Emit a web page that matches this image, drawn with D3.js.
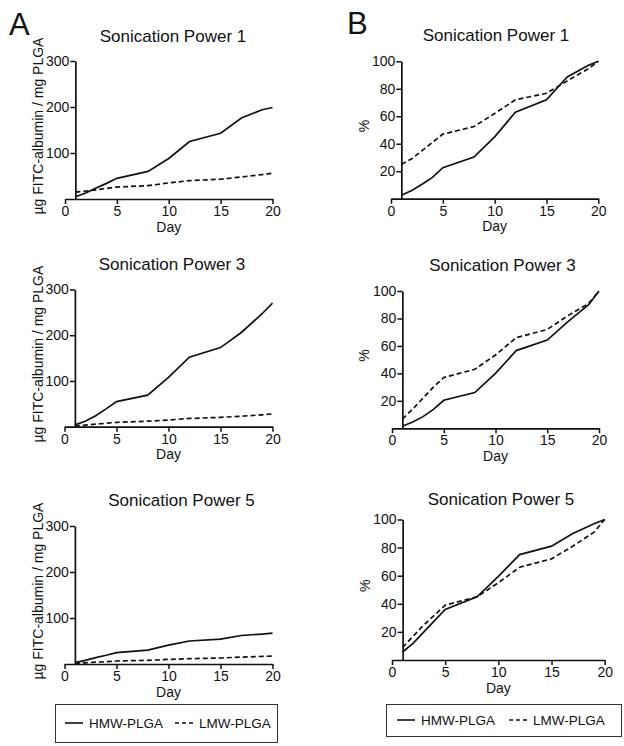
<!DOCTYPE html>
<html><head><meta charset="utf-8">
<script src="https://cdn.jsdelivr.net/npm/d3@7"></script>
<style>
body{margin:0;background:#fff;}
svg text{font-family:"Liberation Sans",Arial,sans-serif;fill:#111;}
</style></head>
<body><svg id="c" width="624" height="746"></svg>
<script>
const days = [1,2,3,4,5,8,10,12,15,17,19,20];
const seriesNames = ["HMW-PLGA","LMW-PLGA"];
const titles = ["Sonication Power 1","Sonication Power 3","Sonication Power 5"];
const xTicks = [0,5,10,15,20];
const yTicksA = [100,200,300];
const yTicksB = [20,40,60,80,100];
const yLabelA = "µg FITC-albumin / mg PLGA";
const yLabelB = "%";
const xLabel = "Day";

// Panel A: µg FITC-albumin / mg PLGA
const hmwA1 = [5,13,24,34,45,60,88,125,143,176,194,199];
const lmwA1 = [15,17,20,23,26,29,35,40,43,48,53,56];
const hmwA3 = [4,12,24,39,55,69,108,152,173,206,247,270];
const lmwA3 = [1.5,3.5,5.5,7.5,9.5,12,14.6,18,20.4,23,26,28];
const hmwA5 = [3,8,14,19,24.6,30,41,50,54,62,65,67];
const lmwA5 = [1.5,2.5,4,5,6.5,8,10,11.6,13,15,16.5,17.4];
// Panel B: cumulative %
const hmwB1 = [2.5,6,10.5,15.5,22.6,30.3,45,63,72,88.6,97,100];
const lmwB1 = [25,29,35,41,47,52.5,62,72,76.7,85.7,94.4,100];
const hmwB3 = [1.5,4.6,8.5,13.8,20.4,26,40,56.6,64.3,77.7,90,100];
const lmwB3 = [6.8,14,22,30,37,43,53.4,66,72,82,91,100];
const hmwB5 = [5.7,12,20,28,36,45,59.5,75,81,90,97,100];
const lmwB5 = [9,17,25,32,39,45,55,66,72,81,91,100];

const svg = d3.select("#c");

const panels = [
  {h:hmwA1,l:lmwA1,t:0,yMax:300,ticks:yTicksA,yl:yLabelA,x:[65,272.5],y:[199,61],tb:41.5,tx:173,ylx:38},
  {h:hmwB1,l:lmwB1,t:0,yMax:100,ticks:yTicksB,yl:yLabelB,x:[391,598.3],y:[198.7,61.3],tb:40.5,tx:496,ylx:364},
  {h:hmwA3,l:lmwA3,t:1,yMax:300,ticks:yTicksA,yl:yLabelA,x:[64.5,272.5],y:[426.7,289.5],tb:270,tx:172,ylx:38},
  {h:hmwB3,l:lmwB3,t:1,yMax:100,ticks:yTicksB,yl:yLabelB,x:[392,599],y:[428.3,291],tb:270.5,tx:502.5,ylx:364},
  {h:hmwA5,l:lmwA5,t:2,yMax:300,ticks:yTicksA,yl:yLabelA,x:[64.5,272.5],y:[664,526],tb:506,tx:181.5,ylx:38},
  {h:hmwB5,l:lmwB5,t:2,yMax:100,ticks:yTicksB,yl:yLabelB,x:[392,604.7],y:[660,519.5],tb:505,tx:501,ylx:365}
];

const dashes = [null,"5,3"];

panels.forEach(p => {
  const x = d3.scaleLinear().domain([0,20]).range(p.x);
  const y = d3.scaleLinear().domain([0,p.yMax]).range(p.y);
  const g = svg.append("g");
  const xa = g.append("g").attr("transform",`translate(0,${p.y[0]})`)
    .call(d3.axisBottom(x).tickValues(xTicks).tickSize(5).tickPadding(2).tickSizeOuter(0));
  xa.select(".domain").attr("stroke","#111").attr("stroke-width",1.7);
  xa.selectAll(".tick line").attr("stroke","#111").attr("stroke-width",1.5);
  xa.selectAll("text").attr("font-size",14).attr("fill","#111");
  const ya = g.append("g").attr("transform",`translate(${x(1)},0)`)
    .call(d3.axisLeft(y).tickValues(p.ticks).tickSize(5).tickPadding(1).tickSizeOuter(0));
  ya.select(".domain").attr("stroke","#111").attr("stroke-width",1.7);
  ya.selectAll(".tick line").attr("stroke","#111").attr("stroke-width",1.5);
  ya.selectAll("text").attr("font-size",14).attr("fill","#111");
  [p.h,p.l].forEach((vals,i) => {
    g.append("path").datum(vals)
      .attr("fill","none").attr("stroke","#111").attr("stroke-width",1.7)
      .attr("stroke-dasharray",dashes[i])
      .attr("d", d3.line().x((d,j)=>x(days[j])).y(d=>y(d)));
  });
  g.append("text").attr("x",p.tx).attr("y",p.tb).attr("text-anchor","middle")
    .attr("font-size",17).text(titles[p.t]);
  g.append("text").attr("x",(p.x[0]+p.x[1])/2).attr("y",p.y[0]+32.5)
    .attr("text-anchor","middle").attr("font-size",14).text(xLabel);
  const yc = (p.y[0]+p.y[1])/2 - 4;
  g.append("text").attr("transform",`translate(${p.ylx},${yc}) rotate(-90)`)
    .attr("text-anchor","middle").attr("dy","0.35em").attr("font-size",14).text(p.yl);
});

svg.append("text").attr("x",9).attr("y",35).attr("font-size",31).text("A");
svg.append("text").attr("x",347).attr("y",34).attr("font-size",31).text("B");

const legends = [
  {x:55,y:704,w:222,h:38,items:[65,175]},
  {x:386,y:704,w:235,h:32,items:[397,509]}
];
legends.forEach(L => {
  svg.append("rect").attr("x",L.x+0.5).attr("y",L.y+0.5).attr("width",L.w).attr("height",L.h)
    .attr("fill","none").attr("stroke","#333").attr("stroke-width",1);
  const cy = L.y + L.h/2;
  seriesNames.forEach((n,i) => {
    const sx = L.items[i];
    svg.append("line").attr("x1",sx).attr("x2",sx+18).attr("y1",cy).attr("y2",cy)
      .attr("stroke","#111").attr("stroke-width",1.6).attr("stroke-dasharray",dashes[i] ? "4,3" : null);
    svg.append("text").attr("x",sx+24).attr("y",cy).attr("dy","0.36em")
      .attr("font-size",13.5).text(n);
  });
});
</script></body></html>
